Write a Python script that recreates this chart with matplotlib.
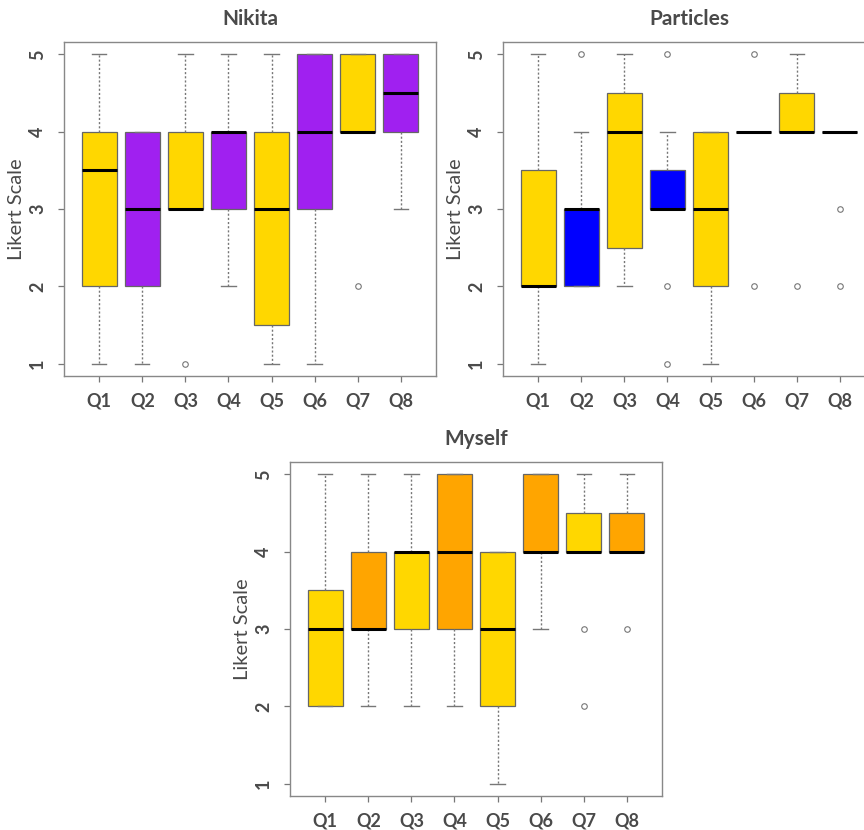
import matplotlib
matplotlib.use("Agg")
import matplotlib.pyplot as plt

questions = ["Q1", "Q2", "Q3", "Q4", "Q5", "Q6", "Q7", "Q8"]

# Nikita
nik_low = [1, 1, 3, 2, 1, 1, 4, 3]
nik_q1 = [2, 2, 3, 3, 1.5, 3, 4, 4]
nik_med = [3.5, 3, 3, 4, 3, 4, 4, 4.5]
nik_q3 = [4, 4, 4, 4, 4, 5, 5, 5]
nik_high = [5, 4, 5, 5, 5, 5, 5, 5]
nik_out = [[], [], [1], [], [], [], [2], []]
nik_cols = ["#FFD700", "#A020F0"] * 4

# Particles
par_low = [1, 2, 2, 3, 1, 4, 4, 4]
par_q1 = [2, 2, 2.5, 3, 2, 4, 4, 4]
par_med = [2, 3, 4, 3, 3, 4, 4, 4]
par_q3 = [3.5, 3, 4.5, 3.5, 4, 4, 4.5, 4]
par_high = [5, 4, 5, 4, 4, 4, 5, 4]
par_out = [[], [5], [], [5, 2, 1], [], [5, 2], [2], [3, 2]]
par_cols = ["#FFD700", "#0000FF"] * 4

# Myself
my_low = [2, 2, 2, 2, 1, 3, 4, 4]
my_q1 = [2, 3, 3, 3, 2, 4, 4, 4]
my_med = [3, 3, 4, 4, 3, 4, 4, 4]
my_q3 = [3.5, 4, 4, 5, 4, 5, 4.5, 4.5]
my_high = [5, 5, 5, 5, 4, 5, 5, 5]
my_out = [[], [], [], [], [], [], [3, 2], [3]]
my_cols = ["#FFD700", "#FFA500"] * 4

txt = "#4a4a4a"
plt.rcParams['font.family'] = ['Lato', 'DejaVu Sans']


def likert_box(ax, title, low, q1, med, q3, high, out, cols):
    stats = []
    for i in range(len(questions)):
        stats.append(dict(whislo=low[i], q1=q1[i], med=med[i], q3=q3[i],
                          whishi=high[i], fliers=out[i], label=questions[i]))
    bp = ax.bxp(stats, widths=0.8, capwidths=0.33, patch_artist=True,
                boxprops=dict(edgecolor="#666666", linewidth=0.9),
                medianprops=dict(color="black", linewidth=2.2, solid_capstyle="butt"),
                whiskerprops=dict(color="#777777", linewidth=1.0, linestyle=(0, (1.5, 1.5))),
                capprops=dict(color="#777777", linewidth=1.0),
                flierprops=dict(marker="o", markersize=4, markerfacecolor="none",
                                markeredgecolor="#777777", markeredgewidth=0.8))
    for patch, c in zip(bp["boxes"], cols):
        patch.set_facecolor(c)
    ax.set_xlim(0.18, 8.82)
    ax.set_ylim(0.84, 5.16)
    ax.set_yticks([1, 2, 3, 4, 5])
    ax.set_yticklabels(["1", "2", "3", "4", "5"], rotation=90, va="center", ha="center")
    ax.tick_params(colors="#777777", labelcolor=txt, length=4, width=0.9)
    ax.tick_params(axis="x", labelsize=13, pad=8)
    ax.tick_params(axis="y", labelsize=13, pad=15)
    for lab in ax.get_xticklabels() + ax.get_yticklabels():
        lab.set_fontweight("bold")
    for s in ax.spines.values():
        s.set_color("#888888")
        s.set_linewidth(1.0)
    ax.set_ylabel("Likert Scale", fontsize=14.5, color=txt)
    ax.yaxis.set_label_coords(-0.104, 0.5)
    ax.set_title(title, fontsize=15, fontweight="bold", color=txt, pad=12)


fig = plt.figure(figsize=(8.64, 8.3), dpi=100)
W, H = 864, 830
ax1 = fig.add_axes([64 / W, 1 - 376 / H, 372 / W, 334 / H])
ax2 = fig.add_axes([503 / W, 1 - 376 / H, 372 / W, 334 / H])
ax3 = fig.add_axes([290 / W, 1 - 796 / H, 372 / W, 334 / H])

likert_box(ax1, "Nikita", nik_low, nik_q1, nik_med, nik_q3, nik_high, nik_out, nik_cols)
likert_box(ax2, "Particles", par_low, par_q1, par_med, par_q3, par_high, par_out, par_cols)
likert_box(ax3, "Myself", my_low, my_q1, my_med, my_q3, my_high, my_out, my_cols)

fig.savefig("out.png", dpi=100)
